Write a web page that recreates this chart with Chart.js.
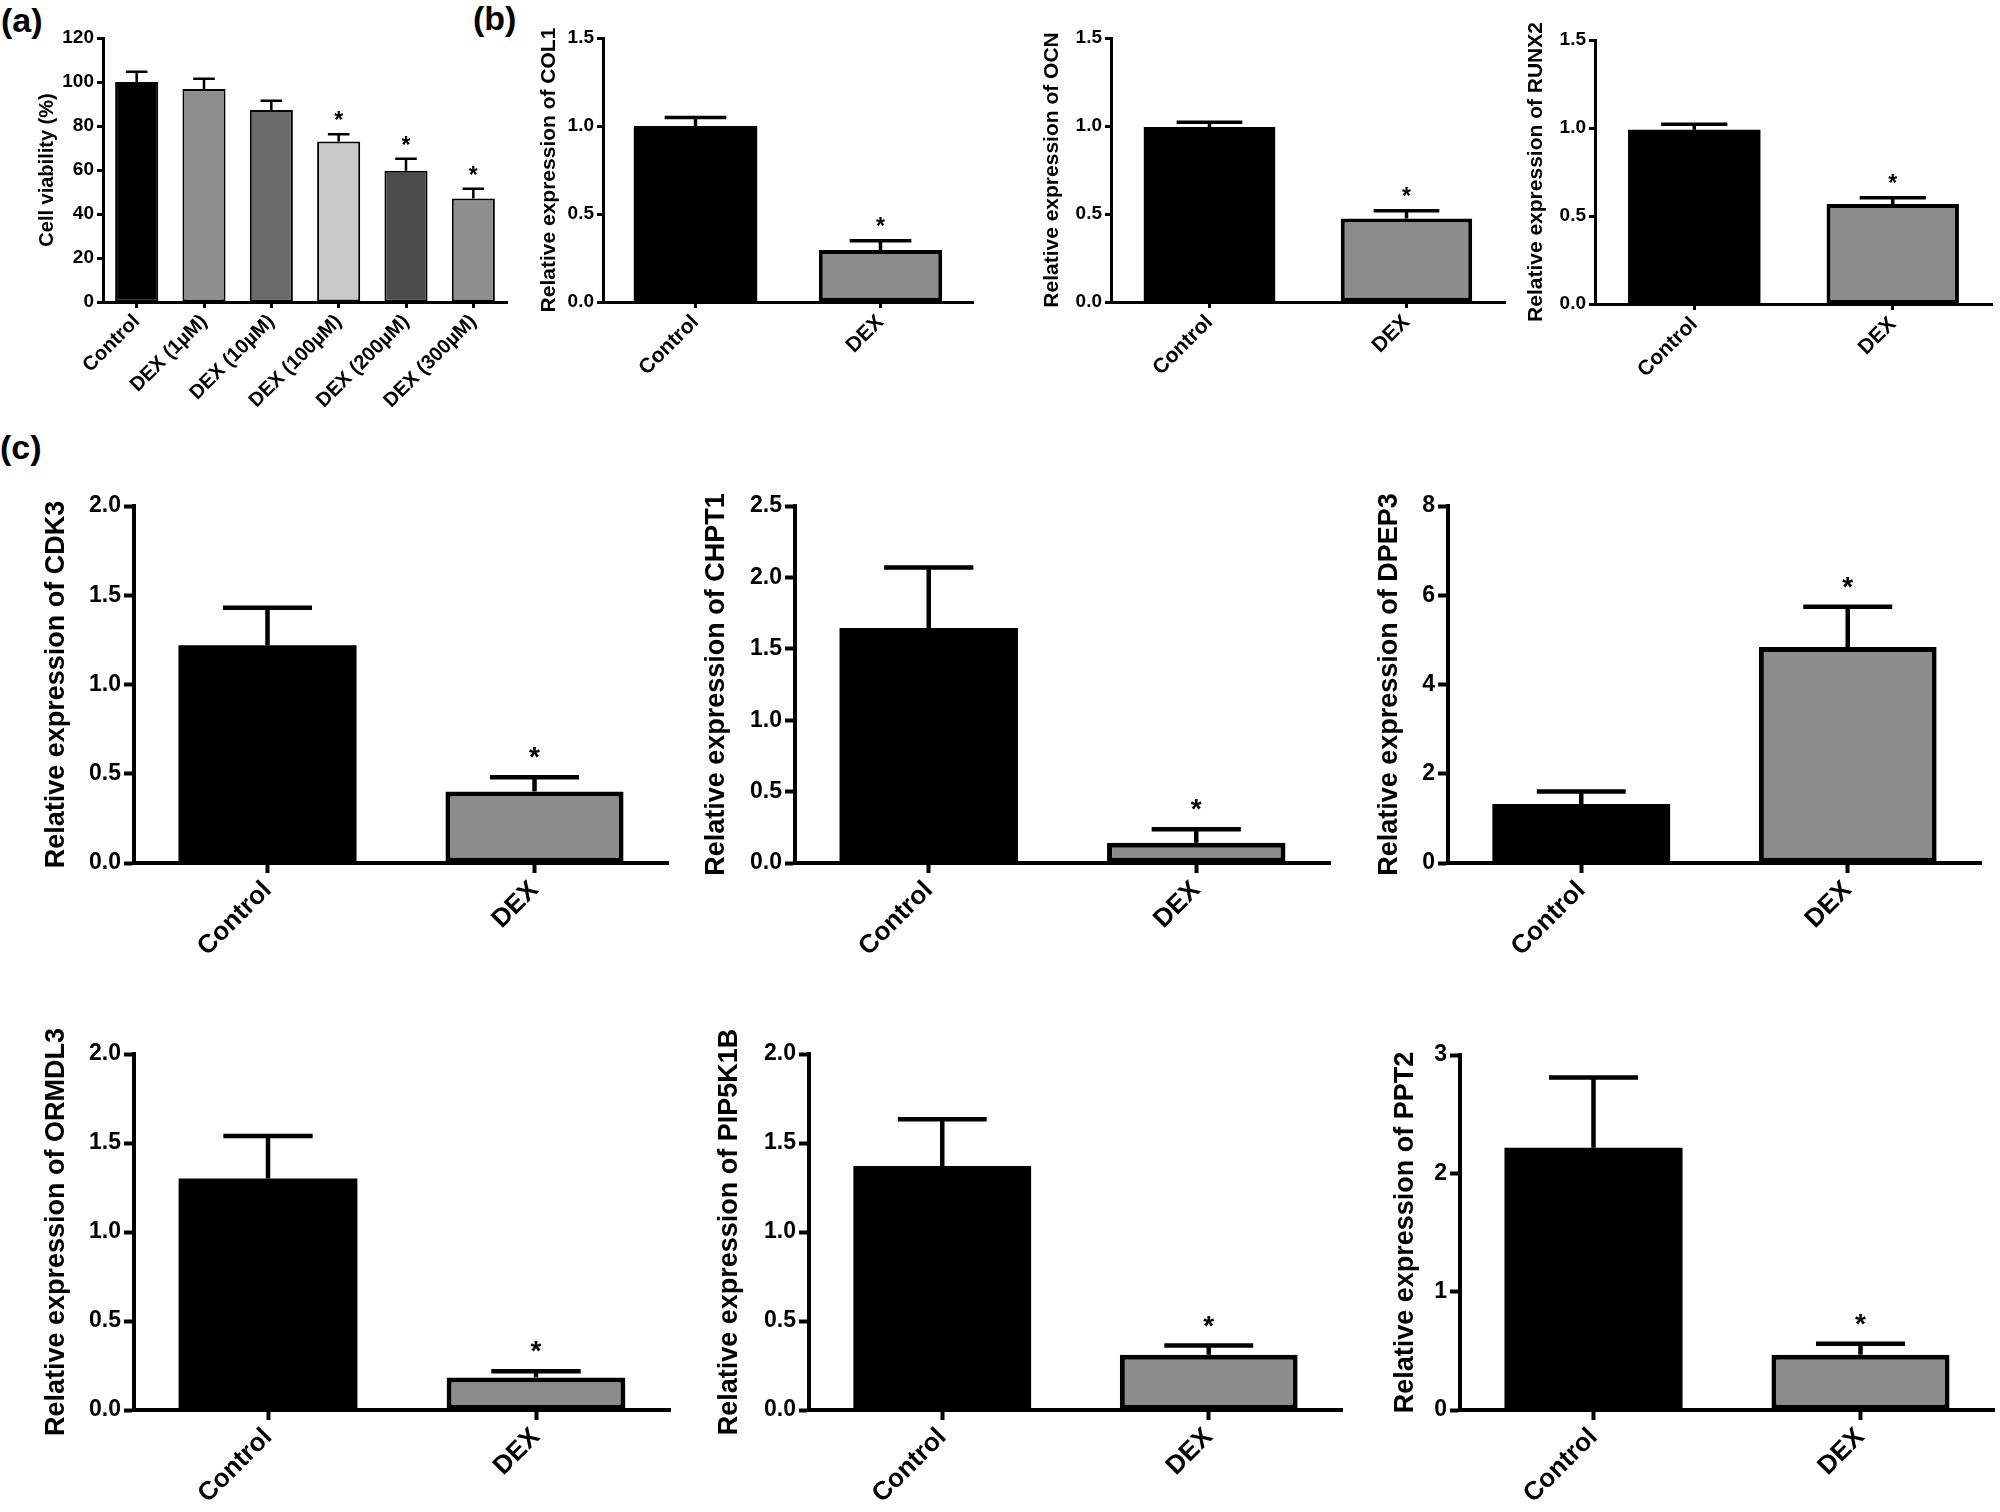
<!DOCTYPE html>
<html><head><meta charset="utf-8">
<script src="https://cdn.jsdelivr.net/npm/chart.js@4.4.1/dist/chart.umd.min.js"></script>
<style>
html,body{margin:0;padding:0;background:#fff;}
body{width:2000px;height:1512px;position:relative;overflow:hidden;font-family:"Liberation Sans",Arial,sans-serif;}
canvas{position:absolute;}
.plabel{position:absolute;font-weight:bold;font-size:34px;line-height:1;color:#000;}
</style></head><body>
<div class="plabel" style="left:1px;top:3px">(a)</div>
<div class="plabel" style="left:473px;top:1px">(b)</div>
<div class="plabel" style="left:0px;top:430px">(c)</div>
<script>
// ---------- data ----------
const viabilityGroups = ['Control', 'DEX (1µM)', 'DEX (10µM)', 'DEX (100µM)', 'DEX (200µM)', 'DEX (300µM)'];
const viabilityMean = [100, 96.8, 87.3, 72.9, 59.7, 47.0];
const viabilityErr = [4.7, 4.7, 4.2, 3.3, 5.4, 4.5];
const viabilitySig = [false, false, false, true, true, true];
const viabilityTicks = [0, 20, 40, 60, 80, 100, 120];
const viabilityColors = ['#000000', '#8e8e8e', '#6b6b6b', '#c9c9c9', '#4b4b4b', '#8e8e8e'];

const geneGroups = ['Control', 'DEX'];
const geneSig = [false, true];
const geneColors = ['#000000', '#8c8c8c'];

const col1Mean = [1.00, 0.295];   const col1Err = [0.049, 0.053];
const ocnMean = [0.995, 0.474];   const ocnErr = [0.026, 0.045];
const runx2Mean = [0.99, 0.568];  const runx2Err = [0.032, 0.036];
const cdk3Mean = [1.22, 0.40];    const cdk3Err = [0.21, 0.08];
const chpt1Mean = [1.645, 0.142]; const chpt1Err = [0.425, 0.095];
const dpep3Mean = [1.32, 4.84];   const dpep3Err = [0.28, 0.90];
const ormdl3Mean = [1.30, 0.183]; const ormdl3Err = [0.24, 0.035];
const pip5k1bMean = [1.371, 0.31]; const pip5k1bErr = [0.263, 0.052];
const ppt2Mean = [2.217, 0.467];  const ppt2Err = [0.593, 0.093];

const ticks15 = [0, 0.5, 1.0, 1.5];
const ticks20 = [0, 0.5, 1.0, 1.5, 2.0];
const ticks25 = [0, 0.5, 1.0, 1.5, 2.0, 2.5];
const ticks8 = [0, 2, 4, 6, 8];
const ticks3 = [0, 1, 2, 3];

// ---------- styles / layout ----------
const FONT = '"Liberation Sans", Arial, sans-serif';
const styleA = {titleSize:20, tickSize:19, xSize:20, axisW:3, tickLen:6, barPct:0.64, borderW:2, errW:2.5, star:23, gap:19, xH:120, padTop:30};
const styleB = {titleSize:21, tickSize:19, xSize:21, axisW:3, tickLen:6, barPct:0.667, borderW:4, errW:3.5, star:23, gap:20, xH:105, padTop:30};
const styleC = {titleSize:27, tickSize:23, xSize:26, axisW:4, tickLen:10, barPct:0.667, borderW:5, errW:4.5, star:28, gap:27, xH:118, padTop:40};

const panels = [
  {labels: viabilityGroups, mean: viabilityMean, err: viabilityErr, sig: viabilitySig, ticks: viabilityTicks, dec: 0, colors: viabilityColors, title: 'Cell viability (%)', st: styleA, box: {l:103, t:38, r:507, b:302}, titleX: 47},
  {labels: geneGroups, mean: col1Mean, err: col1Err, sig: geneSig, ticks: ticks15, dec: 1, colors: geneColors, title: 'Relative expression of COL1', st: styleB, box: {l:603, t:38, r:973, b:302}, titleX: 550},
  {labels: geneGroups, mean: ocnMean, err: ocnErr, sig: geneSig, ticks: ticks15, dec: 1, colors: geneColors, title: 'Relative expression of OCN', st: styleB, box: {l:1111, t:38, r:1505, b:302}, titleX: 1053},
  {labels: geneGroups, mean: runx2Mean, err: runx2Err, sig: geneSig, ticks: ticks15, dec: 1, colors: geneColors, title: 'Relative expression of RUNX2', st: styleB, box: {l:1595, t:40, r:1992, b:304}, titleX: 1537},
  {labels: geneGroups, mean: cdk3Mean, err: cdk3Err, sig: geneSig, ticks: ticks20, dec: 1, colors: geneColors, title: 'Relative expression of CDK3', st: styleC, box: {l:134, t:506, r:668, b:863}, titleX: 56},
  {labels: geneGroups, mean: chpt1Mean, err: chpt1Err, sig: geneSig, ticks: ticks25, dec: 1, colors: geneColors, title: 'Relative expression of CHPT1', st: styleC, box: {l:795, t:506, r:1330, b:863}, titleX: 716},
  {labels: geneGroups, mean: dpep3Mean, err: dpep3Err, sig: geneSig, ticks: ticks8, dec: 0, colors: geneColors, title: 'Relative expression of DPEP3', st: styleC, box: {l:1448, t:506, r:1981, b:863}, titleX: 1389},
  {labels: geneGroups, mean: ormdl3Mean, err: ormdl3Err, sig: geneSig, ticks: ticks20, dec: 1, colors: geneColors, title: 'Relative expression of ORMDL3', st: styleC, box: {l:134, t:1054, r:670, b:1410}, titleX: 56},
  {labels: geneGroups, mean: pip5k1bMean, err: pip5k1bErr, sig: geneSig, ticks: ticks20, dec: 1, colors: geneColors, title: 'Relative expression of PIP5K1B', st: styleC, box: {l:809, t:1054, r:1342, b:1410}, titleX: 729},
  {labels: geneGroups, mean: ppt2Mean, err: ppt2Err, sig: geneSig, ticks: ticks3, dec: 0, colors: geneColors, title: 'Relative expression of PPT2', st: styleC, box: {l:1460, t:1055, r:1994, b:1410}, titleX: 1405}
];

// ---------- error bar + significance plugin ----------
const errBarPlugin = {
  id: 'errbars',
  afterDatasetsDraw(chart, args, opts) {
    const ctx = chart.ctx;
    const yScale = chart.scales.y;
    const meta = chart.getDatasetMeta(0);
    const means = chart.data.datasets[0].data;
    meta.data.forEach((bar, i) => {
      const m = means[i], e = opts.err[i];
      const x = bar.x;
      const base = yScale.getPixelForValue(m);
      const top = yScale.getPixelForValue(m + e);
      const half = bar.width / 4;
      ctx.save();
      ctx.strokeStyle = '#000';
      ctx.lineWidth = opts.lw;
      ctx.lineCap = 'butt';
      ctx.beginPath();
      ctx.moveTo(x, base);
      ctx.lineTo(x, top);
      ctx.moveTo(x - half, top);
      ctx.lineTo(x + half, top);
      ctx.stroke();
      if (opts.sig[i]) {
        ctx.fillStyle = '#000';
        ctx.font = 'bold ' + opts.star + 'px ' + FONT;
        ctx.textAlign = 'center';
        ctx.textBaseline = 'alphabetic';
        ctx.fillText('*', x, top - opts.gap + 0.57 * opts.star);
      }
      ctx.restore();
    });
  }
};

Chart.defaults.font.family = FONT;
Chart.defaults.color = '#000';

panels.forEach((p) => {
  const st = p.st;
  const lh = st.titleSize * 1.2;
  const left = Math.round(p.titleX - lh / 2);
  const top = p.box.t - st.padTop;
  const yW = p.box.l - left;
  const padRight = 12;
  const w = p.box.r - left + padRight;
  const h = p.box.b - top + st.xH;
  const cv = document.createElement('canvas');
  cv.width = w; cv.height = h;
  cv.style.left = left + 'px';
  cv.style.top = top + 'px';
  cv.style.width = w + 'px';
  cv.style.height = h + 'px';
  document.body.appendChild(cv);

  const gridCommon = {display: true, drawOnChartArea: false, drawTicks: true, tickLength: st.tickLen, tickWidth: st.axisW, tickColor: '#000', color: '#000'};
  new Chart(cv.getContext('2d'), {
    type: 'bar',
    data: {
      labels: p.labels,
      datasets: [{
        data: p.mean,
        backgroundColor: p.colors,
        borderColor: '#000',
        borderWidth: p.colors.map(c => (c === '#000000' && p.st !== styleA) ? 0 : st.borderW),
        borderSkipped: false,
        categoryPercentage: 1.0,
        barPercentage: st.barPct
      }]
    },
    options: {
      responsive: false,
      animation: false,
      devicePixelRatio: 1,
      layout: {padding: {top: st.padTop, right: padRight, left: 0, bottom: 0}},
      plugins: {
        legend: {display: false},
        tooltip: {enabled: false},
        errbars: {err: p.err, sig: p.sig, lw: st.errW, star: st.star, gap: st.gap}
      },
      scales: {
        x: {
          type: 'category',
          offset: true,
          grid: Object.assign({}, gridCommon, {offset: false}),
          border: {display: true, color: '#000', width: st.axisW},
          ticks: {color: '#000', font: {family: FONT, size: st.xSize, weight: 'bold'}, minRotation: 45, maxRotation: 45, autoSkip: false, padding: 2},
          afterFit: (s) => { s.height = st.xH; }
        },
        y: {
          min: p.ticks[0],
          max: p.ticks[p.ticks.length - 1],
          afterBuildTicks: (s) => { s.ticks = p.ticks.map(v => ({value: v})); },
          grid: gridCommon,
          border: {display: true, color: '#000', width: st.axisW},
          ticks: {color: '#000', font: {family: FONT, size: st.tickSize, weight: 'bold'}, padding: 3, callback: (v) => Number(v).toFixed(p.dec)},
          title: {display: true, text: p.title, color: '#000', font: {family: FONT, size: st.titleSize, weight: 'bold'}, padding: 0},
          afterFit: (s) => { s.width = yW; }
        }
      }
    },
    plugins: [errBarPlugin]
  });
});
</script>
</body></html>
